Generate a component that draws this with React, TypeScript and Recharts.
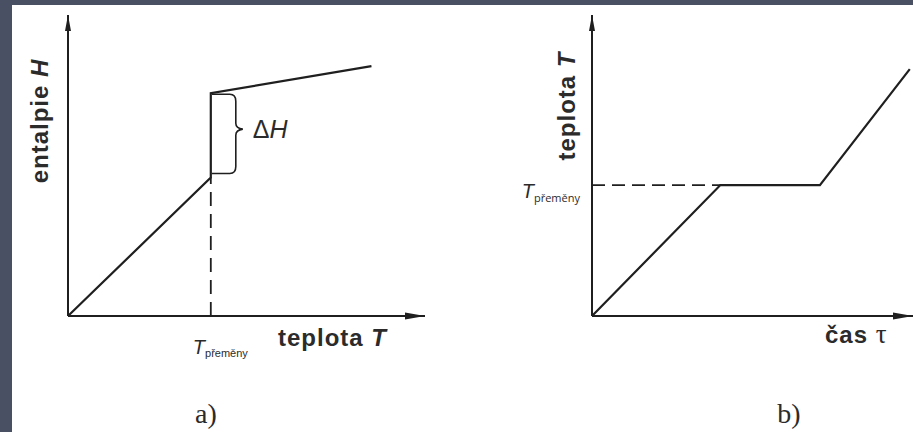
import React from "react";
import {
  Customized,
  Line,
  LineChart,
  ReferenceDot,
  ReferenceLine,
  XAxis,
  YAxis,
} from "recharts";

// a) enthalpy vs. temperature, jump at the transition temperature
const enthalpyTemp = [0, 40, 40, 85];
const enthalpyH = [0, 46, 74, 83];
const transitionTempA = 40;

// b) heating curve, plateau at the transition temperature
const heatTime = [0, 40, 71, 99];
const heatTemp = [0, 43.5, 43.5, 82];
const transitionTempB = 43.5;

const INK = "#1f1f1f";
const TEXT = "#2b2b2b";
const SANS = "'Liberation Sans', Arial, sans-serif";
const SERIF = "'Liberation Serif', 'Times New Roman', serif";

const enthalpyData = enthalpyTemp.map((t, i) => ({ t, h: enthalpyH[i] }));
const heatingData = heatTime.map((tau, i) => ({ tau, temp: heatTemp[i] }));

function ArrowRight(p: any) {
  const { cx, cy } = p;
  return <path d={`M${cx},${cy} L${cx - 20},${cy - 3.5} L${cx - 20},${cy + 3.5} Z`} fill={INK} />;
}

function ArrowUp(p: any) {
  const { cx, cy } = p;
  return <path d={`M${cx},${cy} L${cx - 3},${cy + 16} L${cx + 3},${cy + 16} Z`} fill={INK} />;
}

// curly brace to the right of the jump, with the ΔH note
function Brace(p: any) {
  const { x1, y1, y2 } = p;
  const top = Math.min(y1, y2) + 1;
  const bot = Math.max(y1, y2) - 4;
  const mid = top + (bot - top) * 0.44;
  const x = x1 + 1;
  const r = x + 24;
  const d = [
    `M${x},${top}`,
    `L${r - 6},${top}`,
    `Q${r},${top} ${r},${top + 7}`,
    `L${r},${mid - 6}`,
    `Q${r},${mid - 1} ${r + 7},${mid}`,
    `Q${r},${mid + 1} ${r},${mid + 6}`,
    `L${r},${bot - 7}`,
    `Q${r},${bot} ${r - 6},${bot}`,
    `L${x},${bot}`,
  ].join(" ");
  return (
    <g>
      <path d={d} fill="none" stroke={INK} strokeWidth={1.6} />
      <text x={r + 17} y={mid + 9} fontFamily={SANS} fontSize={25} fill={TEXT}>
        <tspan>Δ</tspan>
        <tspan fontStyle="italic">H</tspan>
      </text>
    </g>
  );
}

function TransitionTickX(p: any) {
  const { x, y } = p;
  return (
    <text x={x - 18} y={y + 30} fontFamily={SANS} fill={TEXT}>
      <tspan fontSize={20} fontStyle="italic">T</tspan>
      <tspan fontSize={11} dy={3}>přeměny</tspan>
    </text>
  );
}

function TransitionTickY(p: any) {
  const { x, y } = p;
  return (
    <text x={x - 4} y={y + 13} textAnchor="end" fontFamily={SANS} fill={TEXT}>
      <tspan fontSize={20} fontStyle="italic">T</tspan>
      <tspan fontSize={11} dy={4} fontFamily="'Open Sans', sans-serif">přeměny</tspan>
    </text>
  );
}

const labelStyle = { fontFamily: SANS, fontWeight: 700, fontSize: 24, letterSpacing: 1, fill: TEXT } as const;
const axisStroke = { stroke: INK, strokeWidth: 2 };

function EnthalpyChart() {
  return (
    <LineChart width={460} height={432} data={enthalpyData} margin={{ top: 15, right: 35, bottom: 115, left: 67 }}>
      <XAxis
        type="number"
        dataKey="t"
        domain={[0, 100]}
        ticks={[transitionTempA]}
        tick={<TransitionTickX />}
        tickLine={false}
        height={1}
        axisLine={axisStroke}
        interval={0}
      />
      <YAxis type="number" domain={[0, 100]} ticks={[]} tick={false} tickLine={false} width={1} axisLine={axisStroke} />
      <ReferenceLine segment={[{ x: 0, y: 0 }, { x: 100, y: 0 }]} {...axisStroke} />
      <ReferenceLine segment={[{ x: 0, y: 0 }, { x: 0, y: 100 }]} {...axisStroke} />
      <ReferenceLine
        segment={[{ x: transitionTempA, y: 0 }, { x: transitionTempA, y: enthalpyH[1] }]}
        stroke={INK}
        strokeWidth={1.8}
        strokeDasharray="14 8"
      />
      <ReferenceLine
        segment={[{ x: transitionTempA, y: enthalpyH[1] }, { x: transitionTempA, y: enthalpyH[2] }]}
        shape={<Brace />}
      />
      <Line type="linear" dataKey="h" stroke={INK} strokeWidth={2.2} dot={false} isAnimationActive={false} />
      <ReferenceDot x={100} y={0} ifOverflow="visible" shape={<ArrowRight />} />
      <ReferenceDot x={0} y={100} ifOverflow="visible" shape={<ArrowUp />} />
      <Customized
        component={
          <g>
            <text transform="translate(48,121) rotate(-90)" textAnchor="middle" {...labelStyle}>
              entalpie <tspan fontStyle="italic">H</tspan>
            </text>
            <text x={278} y={346} {...labelStyle}>
              teplota <tspan fontStyle="italic">T</tspan>
            </text>
            <text x={206} y={423} textAnchor="middle" fontFamily={SERIF} fontSize={28} fill={TEXT}>
              a)
            </text>
          </g>
        }
      />
    </LineChart>
  );
}

function HeatingChart() {
  return (
    <LineChart width={458} height={432} data={heatingData} margin={{ top: 15, right: 0, bottom: 115, left: 136 }}>
      <XAxis type="number" dataKey="tau" domain={[0, 100]} ticks={[]} tick={false} tickLine={false} height={1} axisLine={axisStroke} />
      <YAxis
        type="number"
        domain={[0, 100]}
        ticks={[transitionTempB]}
        tick={<TransitionTickY />}
        tickLine={false}
        width={1}
        axisLine={axisStroke}
        interval={0}
      />
      <ReferenceLine segment={[{ x: 0, y: 0 }, { x: 100, y: 0 }]} {...axisStroke} />
      <ReferenceLine segment={[{ x: 0, y: 0 }, { x: 0, y: 100 }]} {...axisStroke} />
      <ReferenceLine
        segment={[{ x: 0, y: transitionTempB }, { x: heatTime[1], y: transitionTempB }]}
        stroke={INK}
        strokeWidth={1.8}
        strokeDasharray="13 7"
      />
      <Line type="linear" dataKey="temp" stroke={INK} strokeWidth={2.2} dot={false} isAnimationActive={false} />
      <ReferenceDot x={100} y={0} ifOverflow="visible" shape={<ArrowRight />} />
      <ReferenceDot x={0} y={100} ifOverflow="visible" shape={<ArrowUp />} />
      <Customized
        component={
          <g>
            <text transform="translate(120,106) rotate(-90)" textAnchor="middle" {...labelStyle}>
              teplota <tspan fontStyle="italic">T</tspan>
            </text>
            <text x={370} y={343} {...labelStyle}>
              čas <tspan fontFamily={SERIF} fontWeight={400} fontSize={27}>τ</tspan>
            </text>
            <text x={334} y={423} textAnchor="middle" fontFamily={SERIF} fontSize={28} fill={TEXT}>
              b)
            </text>
          </g>
        }
      />
    </LineChart>
  );
}

export default function App() {
  return (
    <div style={{ position: "absolute", left: 0, top: 0, width: 913, height: 432, background: "#4a5064", overflow: "hidden" }}>
      <div style={{ position: "absolute", left: 12, top: 5, right: 0, bottom: 0, background: "#ffffff" }} />
      <div style={{ position: "absolute", left: 0, top: 0 }}>
        <EnthalpyChart />
      </div>
      <div style={{ position: "absolute", left: 455, top: 0 }}>
        <HeatingChart />
      </div>
    </div>
  );
}
